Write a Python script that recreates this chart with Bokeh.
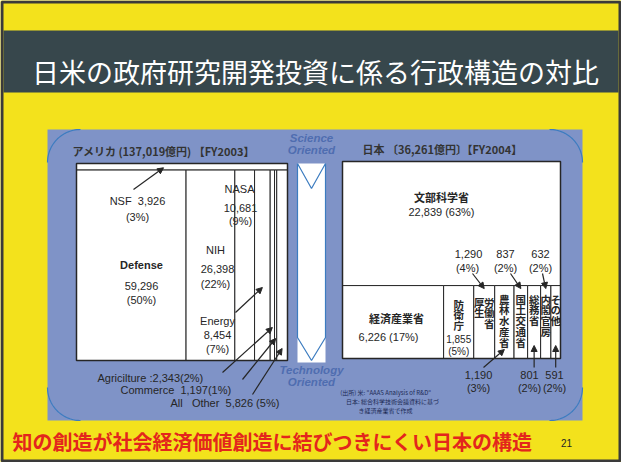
import numpy as np
from bokeh.plotting import figure
from bokeh.models import Range1d, ColumnDataSource, Arrow, NormalHead
from bokeh.core.properties import value
from bokeh.embed import file_html
from bokeh.resources import INLINE

# ---------------- data ----------------
title = "日米の政府研究開発投資に係る行政構造の対比"
footer = "知の創造が社会経済価値創造に結びつきにくい日本の構造"
page_no = "21"

us_total = 137019
us_year = "FY2003"
us_agencies = ["NSF", "Defense", "NIH", "NASA", "Energy", "Agricilture", "Commerce", "All Other"]
us_values = [3926, 59296, 26398, 10681, 8454, 2343, 1197, 5826]
us_pct = [3, 50, 22, 9, 7, 2, 1, 5]

jp_total = 36261
jp_year = "FY2004"
jp_ministries = ["文部科学省", "経済産業省", "防衛庁", "厚生労働省", "農林水産省",
                 "国土交通省", "総務省", "内閣官房", "その他"]
jp_values = [22839, 6226, 1855, 1290, 1190, 837, 801, 632, 591]
jp_pct = [63, 17, 5, 4, 3, 2, 2, 2, 2]

source_lines = ['(出所) 米: "AAAS Analysis of R&D"', "日本: 総合科学技術会議資料に基づ", "き経済産業省で作成"]

# ---------------- styles ----------------
YEL = "#f3e21c"
BAND = "#37474c"
PANEL = "#7f93c7"
ARC = "#3c7cc0"
DARK = "#262626"
BLUE_TXT = "#4f6db0"
RED = "#e3261c"
SANS = "Liberation Sans"
CJK = "Noto Sans CJK JP"
NB = "\u00a0"

W, H = 621, 462
p = figure(width=W, height=H, x_range=Range1d(0, W), y_range=Range1d(H, 0),
           output_backend="svg", toolbar_location=None, min_border=0)
p.axis.visible = False
p.grid.visible = False
p.outline_line_color = None
p.background_fill_color = YEL
p.border_fill_color = YEL


def txt(x, y, s, size=11, font=SANS, style="normal", color=DARK, align="center",
        baseline="middle", lh=1.2):
    p.text(x=[x], y=[y], text=[s], text_font=value(font), text_font_size=f"{size}px",
           text_font_style=style, text_color=color, text_align=align,
           text_baseline=baseline, text_line_height=lh)


def arrow(x0, y0, x1, y1):
    p.add_layout(Arrow(end=NormalHead(size=6, fill_color=DARK, line_color=DARK),
                       x_start=x0, y_start=y0, x_end=x1, y_end=y1,
                       line_color=DARK, line_width=1.2))


# slide frame
p.quad(left=[1.5], right=[W - 1.5], top=[1.5], bottom=[H - 1.5], fill_color=None,
       line_color="#3a3a3a", line_width=3)

# title band
p.quad(left=[3], right=[W - 3], top=[30], bottom=[92], fill_color=BAND, line_color=None)
txt(315, 71, title, size=27, font=CJK, color="white")

# blue panel
p.quad(left=[47], right=[582], top=[129], bottom=[420], fill_color=PANEL, line_color=None)
r = 33
for cx, cy, a0, a1 in [(47 + r, 129 + r, np.pi, 1.5 * np.pi),
                       (582 - r, 129 + r, 1.5 * np.pi, 2 * np.pi),
                       (47 + r, 420 - r, 0.5 * np.pi, np.pi),
                       (582 - r, 420 - r, 0.0, 0.5 * np.pi)]:
    t = np.linspace(a0, a1, 30)
    p.line(cx + r * np.cos(t), cy + r * np.sin(t), line_color=ARC, line_width=1.2)

# ---------------- US box ----------------
ux0, ux1, uy0, uy1 = 76, 287, 163, 360
us_sum = sum(us_values)
h_nsf = (uy1 - uy0) * us_values[0] / us_sum
rest = us_values[1:]
widths = [(ux1 - ux0) * v / sum(rest) for v in rest]
lefts = [ux0 + sum(widths[:i]) for i in range(len(widths))]
rights = [l + w for l, w in zip(lefts, widths)]
us_src = ColumnDataSource(dict(
    left=[ux0] + lefts, right=[ux1] + rights,
    top=[uy0] + [uy0 + h_nsf] * len(rest), bottom=[uy0 + h_nsf] + [uy1] * len(rest)))
p.quad(left="left", right="right", top="top", bottom="bottom", source=us_src,
       fill_color="white", line_color=DARK, line_width=1)
p.quad(left=[ux0], right=[ux1], top=[uy0], bottom=[uy1], fill_color=None,
       line_color=DARK, line_width=1.5)
us_cx = [(l + r_) / 2 for l, r_ in zip(lefts, rights)]

txt(72, 150, f"アメリカ ({us_total:,}億円) 【{us_year}】", size=11, font=CJK,
    style="bold", align="left", color="#333333")

txt(137, 200, f"{us_agencies[0]}{NB}{NB}{us_values[0]:,}", size=11)
txt(137, 216, f"({us_pct[0]}%)", size=11)
arrow(133, 189, 163, uy0 + h_nsf / 2 + 1)

txt(141, 264, us_agencies[1], size=11, style="bold")
txt(141, 285, f"{us_values[1]:,}", size=11)
txt(141, 299, f"({us_pct[1]}%)", size=11)

txt(215, 249, us_agencies[2], size=11)
txt(217, 268, f"{us_values[2]:,}", size=11)
txt(215, 283, f"({us_pct[2]}%)", size=11)

txt(239, 188, us_agencies[3], size=11)
txt(240, 207, f"{us_values[3]:,}", size=11)
txt(240, 220, f"({us_pct[3]}%)", size=11)

txt(217, 320, us_agencies[4], size=11)
txt(217, 334, f"{us_values[4]:,}", size=11)
txt(217, 348, f"({us_pct[4]}%)", size=11)
arrow(235, 312, us_cx[3], 287)

txt(97, 377, f"{us_agencies[5]}{NB}:{us_values[5]:,}({us_pct[5]}%)", size=11, align="left")
txt(120, 389, f"{us_agencies[6]}{NB}{NB}{us_values[6]:,}({us_pct[6]}%)", size=11, align="left")
a, b = us_agencies[7].split(" ")
txt(170, 402, f"{a}{NB*3}{b}{NB*2}{us_values[7]:,}{NB}({us_pct[7]}%)", size=11, align="left")
arrow(222, 372, us_cx[4], 327)
arrow(242, 379, us_cx[5], 338)
arrow(252, 394, us_cx[6], 348)

# ---------------- middle arrow band ----------------
p.quad(left=[297], right=[325], top=[163], bottom=[362], fill_color="white", line_color=None)
p.line([297, 311, 325, 325, 311, 297, 297], [163, 188, 163, 337, 360, 337, 163],
       line_color=ARC, line_width=1.2)
txt(311, 137, "Science", size=11.5, style="bold italic", color=BLUE_TXT)
txt(311, 149, "Oriented", size=11.5, style="bold italic", color=BLUE_TXT)
txt(311, 369, "Technology", size=11.5, style="bold italic", color=BLUE_TXT)
txt(311, 381, "Oriented", size=11.5, style="bold italic", color=BLUE_TXT)

# ---------------- Japan box ----------------
jx0, jx1, jy0, jy1 = 342, 560, 161, 358
jp_sum = sum(jp_values)
h_top = (jy1 - jy0) * jp_values[0] / jp_sum
jrest = jp_values[1:]
jw = [(jx1 - jx0) * v / sum(jrest) for v in jrest]
jl = [jx0 + sum(jw[:i]) for i in range(len(jw))]
jr = [l + w for l, w in zip(jl, jw)]
jp_src = ColumnDataSource(dict(
    left=[jx0] + jl, right=[jx1] + jr,
    top=[jy0] + [jy0 + h_top] * len(jrest), bottom=[jy0 + h_top] + [jy1] * len(jrest)))
p.quad(left="left", right="right", top="top", bottom="bottom", source=jp_src,
       fill_color="white", line_color=DARK, line_width=1)
p.quad(left=[jx0], right=[jx1], top=[jy0], bottom=[jy1], fill_color=None,
       line_color=DARK, line_width=1.5)
jc = [(l + r_) / 2 for l, r_ in zip(jl, jr)]
ydiv = jy0 + h_top

txt(362, 148, f"日本 〔{jp_total:,}億円〕【{jp_year}】", size=11, font=CJK,
    style="bold", align="left", color="#333333")

txt(441, 196, jp_ministries[0], size=11, font=CJK, style="bold")
txt(441, 211, f"{jp_values[0]:,}{NB}({jp_pct[0]}%)", size=11)

txt(396, 317, jp_ministries[1], size=11, font=CJK, style="bold")
txt(388, 336, f"{jp_values[1]:,}{NB}({jp_pct[1]}%)", size=11)

# vertical labels in narrow columns
vt = dict(size=10.5, font=CJK, style="bold", baseline="top", lh=0.72)
txt(jc[1], 296, "\n".join(jp_ministries[2]), **vt)
txt(jc[1], 338, f"{jp_values[2]:,}", size=10)
txt(jc[1], 351, f"({jp_pct[2]}%)", size=10)
txt(jc[2] - 5, 294, "\n".join(jp_ministries[3][:2]), **vt)
txt(jc[2] + 5, 294, "\n".join(jp_ministries[3][2:]), **vt)
for i in range(3, 8):
    txt(jc[i], 291, "\n".join(jp_ministries[i + 1]), **vt)

# labels above divider
txt(468, 253, f"{jp_values[3]:,}", size=11)
txt(467, 267, f"({jp_pct[3]}%)", size=11)
arrow(472, 273, jc[2], ydiv + 3)
txt(505, 253, f"{jp_values[5]}", size=11)
txt(505, 267, f"({jp_pct[5]}%)", size=11)
arrow(510, 273, jc[4], ydiv + 3)
txt(540, 253, f"{jp_values[7]}", size=11)
txt(540, 267, f"({jp_pct[7]}%)", size=11)
arrow(542, 273, jc[6], ydiv + 3)

# labels below box
txt(478, 374, f"{jp_values[4]:,}", size=11)
txt(478, 387, f"({jp_pct[4]}%)", size=11)
arrow(483, 367, jc[3], 349)
txt(529, 374, f"{jp_values[6]}", size=11)
txt(529, 387, f"({jp_pct[6]}%)", size=11)
arrow(jc[5], 367, jc[5], 345)
txt(554, 374, f"{jp_values[8]}", size=11)
txt(554, 387, f"({jp_pct[8]}%)", size=11)
arrow(jc[7], 367, jc[7], 345)

# source note
for i, (s, x) in enumerate(zip(source_lines, [385, 392, 385])):
    txt(x, 392 + 9 * i, s, size=6, font=CJK, color="#1d2a55")

# footer
txt(12, 441, footer, size=20, font=CJK, style="bold", color=RED, align="left")
txt(566, 442, page_no, size=10, color=DARK)

open("out.html", "w").write(file_html(p, INLINE))
